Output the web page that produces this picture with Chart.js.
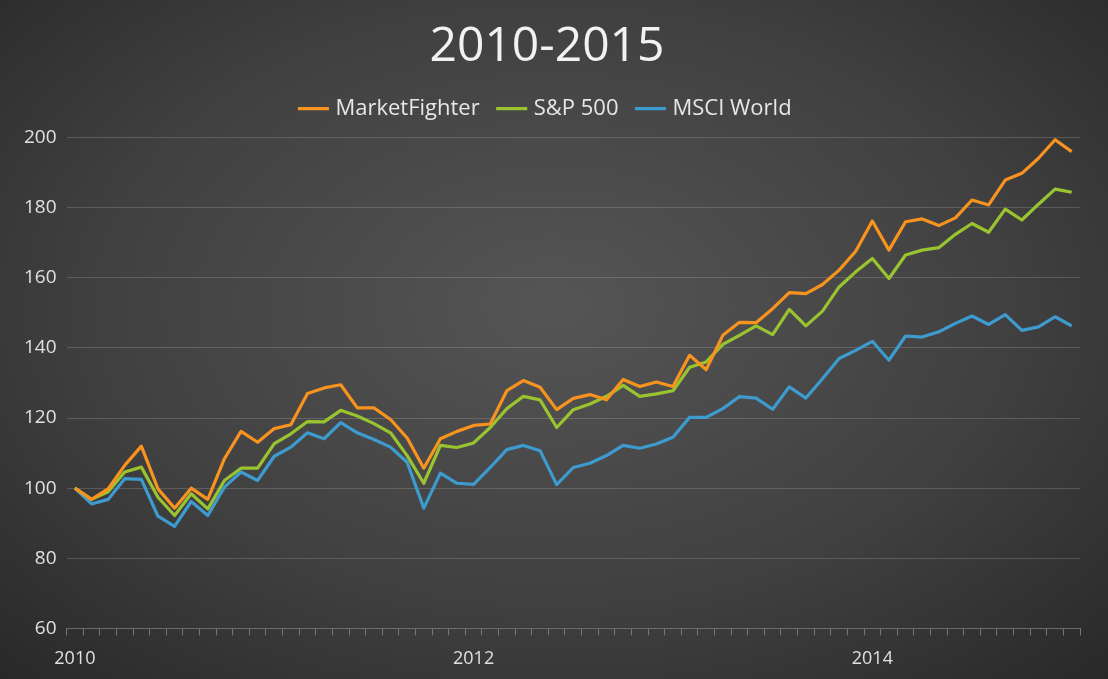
<!DOCTYPE html>
<html><head><meta charset="utf-8">
<script src="https://cdn.jsdelivr.net/npm/chart.js@4"></script>
<style>
html,body{margin:0;padding:0;width:1108px;height:679px;overflow:hidden;
background:radial-gradient(ellipse 75% 80% at 50% 45%, #555 0%, #404040 55%, #262626 100%);}
#wrap{position:absolute;left:0;top:0;width:1108px;height:679px;}
</style></head><body>
<div id="wrap"><canvas id="c" width="1108" height="679"></canvas></div>
<script>
const months = [];
for (let y = 2010; y <= 2015; y++) for (let m = 1; m <= 12; m++) if (months.length < 61) months.push(y + '-' + String(m).padStart(2,'0'));
const tickYears = ['2010','2012','2014'];
const marketFighter = [100,96.8,99.8,106.5,112,99.8,94.3,100,96.8,108.4,116.2,113.1,117,118.1,127,128.6,129.5,122.9,122.9,119.6,114.3,105.7,114.1,116.2,117.9,118.3,127.8,130.7,128.8,122.4,125.6,126.7,125.2,131,129,130.3,129,137.9,133.8,143.6,147.3,147.2,151.2,155.8,155.5,158.1,162.2,167.6,176.2,167.9,176,176.8,174.9,177.1,182.2,180.8,187.9,189.8,194.1,199.4,196];
const sp500 = [100,96.8,99,104.6,106,97.4,92.2,98.4,94.1,102.2,105.7,105.7,112.7,115.5,119,118.9,122.2,120.6,118.4,115.8,109.3,101.4,112.2,111.6,112.9,117.3,122.7,126.2,125.2,117.3,122.4,124,126.2,129.3,126.2,126.9,127.8,134.5,136,141,143.6,146.3,143.8,151,146.3,150.5,157.4,161.7,165.5,159.8,166.5,167.9,168.6,172.4,175.5,173,179.6,176.5,181,185.3,184.4];
const msciWorld = [100,95.5,96.8,102.7,102.5,92,89.1,96.2,92.2,100.3,104.6,102.2,109.1,111.7,115.8,114.1,118.7,115.8,113.9,111.7,107.4,94.3,104.3,101.4,101.1,105.9,111,112.2,110.7,101,105.9,107.1,109.3,112.2,111.4,112.6,114.5,120.2,120.2,122.7,126.1,125.7,122.5,128.9,125.7,131.2,137,139.3,141.9,136.5,143.4,143.1,144.6,147,149.1,146.7,149.5,145,146,148.9,146.3];

const ds = (label, data, color) => ({label, data, borderColor: color, backgroundColor: color, borderWidth: 3.2, pointRadius: 0, tension: 0, borderJoinStyle: 'round'});
const legendGap = { id: 'legendGap', beforeInit(chart) {
  const orig = chart.legend.fit;
  chart.legend.fit = function() { orig.call(this); this.height += 8; };
}};
new Chart(document.getElementById('c'), {
  type: 'line',
  data: { labels: months, datasets: [
    ds('MarketFighter', marketFighter, '#f7931e'),
    ds('S&P 500', sp500, '#99c430'),
    ds('MSCI World', msciWorld, '#3d9bcf')
  ]},
  plugins: [legendGap],
  options: {
    responsive: false, animation: false,
    layout: { padding: { left: 14, right: 28, top: 19, bottom: -4 } },
    plugins: {
      title: { display: true, text: '2010-2015', color: '#f2f2f2', font: { family: 'Open Sans', size: 48, weight: 'normal' }, padding: { top: 0, bottom: 0 } },
      legend: { labels: { color: '#e6e6e6', font: { family: 'Open Sans', size: 22 }, usePointStyle: true, pointStyle: 'line', boxWidth: 30, padding: 21 } },
      tooltip: { enabled: false }
    },
    scales: {
      x: {
        offset: true,
        grid: { display: true, drawOnChartArea: false, color: '#777', tickLength: 7, offset: true },
        border: { color: '#6a6a6a' },
        ticks: { autoSkip: false, maxRotation: 0, padding: 13, color: '#e0e0e0', font: { family: 'Open Sans', size: 18 },
          callback: function(v, i) { const l = months[i]; const y = l.slice(0,4); return (l.endsWith('-01') && tickYears.includes(y)) ? y : ''; } }
      },
      y: {
        min: 60, max: 200,
        ticks: { stepSize: 20, color: '#e0e0e0', font: { family: 'Open Sans', size: 19 }, padding: 10 },
        grid: { color: 'rgba(255,255,255,0.16)', drawTicks: false },
        border: { display: false }
      }
    }
  }
});
</script></body></html>
